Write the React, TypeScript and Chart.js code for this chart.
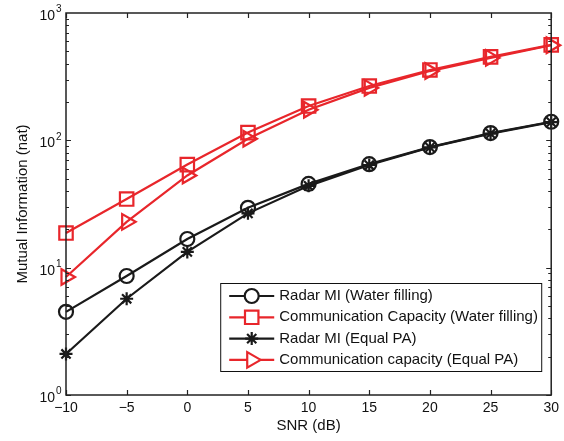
import React, { useEffect, useRef } from "react";
import { Chart, registerables } from "chart.js";
import { drawPoint } from "chart.js/helpers";

Chart.register(...registerables);

const snr = [-10, -5, 0, 5, 10, 15, 20, 25, 30];
const radarWF = [4.5, 8.6, 16.8, 29.5, 45.5, 65, 88.5, 114, 140];
const commWF = [18.7, 34.6, 64.5, 115, 186, 267, 357, 452, 562];
const radarEPA = [2.1, 5.7, 13.3, 26.7, 43.9, 64, 88, 113, 139];
const commEPA = [8.45, 22.9, 53, 103, 174, 258, 350, 444, 558];

const seriesNames = [
  "Radar MI (Water filling)",
  "Communication Capacity (Water filling)",
  "Radar MI (Equal PA)",
  "Communication capacity (Equal PA)",
];

const xTickValues = [-10, -5, 0, 5, 10, 15, 20, 25, 30];
const xTickLabels = ["\u221210", "\u22125", "0", "5", "10", "15", "20", "25", "30"];
const yTickValues = [1, 10, 100, 1000];
const yTickBase = "10";
const yTickExponents = ["0", "1", "2", "3"];

const RED = "#e8262b";
const BLACK = "#1a1a1a";
const FONT = "'Liberation Sans', Arial, Helvetica, sans-serif";

const framePlugin = {
  id: "matlabFrame",
  afterDatasetsDraw(chart: any) {
    const { ctx, chartArea } = chart;
    const { left, right, top, bottom } = chartArea;
    const xs = chart.scales.x;
    const ys = chart.scales.y;
    ctx.save();
    ctx.strokeStyle = "#222";
    ctx.lineWidth = 1.2;
    ctx.beginPath();
    xTickValues.forEach((v) => {
      const px = Math.round(xs.getPixelForValue(v)) + 0.5;
      ctx.moveTo(px, bottom);
      ctx.lineTo(px, bottom - 5);
      ctx.moveTo(px, top);
      ctx.lineTo(px, top + 5);
    });
    for (let d = 0; d < 3; d++) {
      const base = yTickValues[d];
      for (let m = 1; m <= 9; m++) {
        const v = base * m;
        const py = Math.round(ys.getPixelForValue(v)) + 0.5;
        const len = m === 1 ? 5 : 3;
        ctx.moveTo(left, py);
        ctx.lineTo(left + len, py);
        ctx.moveTo(right, py);
        ctx.lineTo(right - len, py);
      }
    }
    ctx.stroke();
    ctx.lineWidth = 1.5;
    ctx.strokeRect(left, top, right - left, bottom - top);

    // y tick labels with superscript exponents
    ctx.fillStyle = "#111";
    ctx.textBaseline = "middle";
    yTickValues.forEach((v, i) => {
      const py = ys.getPixelForValue(v);
      ctx.font = `14px ${FONT}`;
      ctx.textAlign = "right";
      ctx.fillText(yTickBase, left - 11, py + 3);
      ctx.font = `10px ${FONT}`;
      ctx.textAlign = "left";
      ctx.fillText(yTickExponents[i], left - 10, py - 3.5);
    });
    ctx.restore();
  },
  afterDraw(chart: any) {
    const { ctx, chartArea } = chart;
    const boxW = 321;
    const boxH = 88;
    const bx = chartArea.right - 10 - boxW;
    const by = chartArea.bottom - 24 - boxH;
    ctx.save();
    ctx.fillStyle = "#fff";
    ctx.fillRect(bx, by, boxW, boxH);
    ctx.strokeStyle = "#111";
    ctx.lineWidth = 1;
    ctx.strokeRect(bx + 0.5, by + 0.5, boxW, boxH);
    ctx.font = `15px ${FONT}`;
    ctx.textBaseline = "middle";
    ctx.textAlign = "left";
    chart.data.datasets.forEach((ds: any, i: number) => {
      const cy = by + 13 + i * 21.3;
      const x0 = bx + 9;
      const x1 = bx + 54;
      ctx.strokeStyle = ds.borderColor;
      ctx.lineWidth = ds.borderWidth;
      ctx.beginPath();
      ctx.moveTo(x0, cy);
      ctx.lineTo(x1, cy);
      ctx.stroke();
      ctx.fillStyle = "#fff";
      ctx.strokeStyle = ds.pointBorderColor;
      ctx.lineWidth = ds.pointBorderWidth;
      drawPoint(
        ctx,
        { pointStyle: ds.pointStyle, rotation: ds.pointRotation || 0, radius: ds.pointRadius, borderWidth: ds.pointBorderWidth },
        (x0 + x1) / 2,
        cy
      );
      ctx.fillStyle = "#111";
      ctx.fillText(ds.label, bx + 59, cy);
    });
    ctx.restore();
  },
};

export default function App() {
  const canvasRef = useRef<HTMLCanvasElement | null>(null);

  useEffect(() => {
    if (!canvasRef.current) return;
    const mk = (label: string, data: number[], color: string, style: string, radius: number, rot = 0) => ({
      label,
      data: snr.map((x, i) => ({ x, y: data[i] })),
      borderColor: color,
      backgroundColor: "rgba(0,0,0,0)",
      borderWidth: 2.2,
      pointStyle: style,
      pointRadius: radius,
      pointRotation: rot,
      pointBorderColor: color,
      pointBackgroundColor: "rgba(0,0,0,0)",
      pointBorderWidth: 2.2,
      clip: false as any,
      tension: 0,
    });
    const chart = new Chart(canvasRef.current, {
      type: "line",
      data: {
        datasets: [
          mk(seriesNames[0], radarWF, BLACK, "circle", 7),
          mk(seriesNames[1], commWF, RED, "rect", 9.5),
          mk(seriesNames[2], radarEPA, BLACK, "star", 6.5),
          mk(seriesNames[3], commEPA, RED, "triangle", 9, 90),
        ],
      },
      options: {
        responsive: false,
        animation: false,
        layout: { padding: { left: 0, right: 12, top: 13, bottom: 0 } },
        plugins: { legend: { display: false }, tooltip: { enabled: false } },
        scales: {
          x: {
            type: "linear",
            min: -10,
            max: 30,
            grid: { display: false, drawTicks: false },
            border: { display: false },
            afterBuildTicks: (s: any) => {
              s.ticks = xTickValues.map((v) => ({ value: v }));
            },
            afterFit: (s: any) => {
              s.height = 46;
            },
            ticks: {
              padding: 5,
              color: "#111",
              font: { family: FONT, size: 14 },
              callback: (v: any) => xTickLabels[xTickValues.indexOf(Number(v))] ?? "",
            },
            title: {
              display: true,
              text: "SNR (dB)",
              color: "#111",
              font: { family: FONT, size: 15 },
              padding: { top: 0, bottom: 6 },
            },
          },
          y: {
            type: "logarithmic",
            min: 1,
            max: 1000,
            grid: { display: false, drawTicks: false },
            border: { display: false },
            afterBuildTicks: (s: any) => {
              s.ticks = yTickValues.map((v) => ({ value: v, major: true }));
            },
            afterFit: (s: any) => {
              s.width = 66;
            },
            ticks: { display: false },
            title: {
              display: true,
              text: "Mutual Information (nat)",
              color: "#111",
              font: { family: FONT, size: 15 },
              padding: { top: 14, bottom: 0 },
            },
          },
        },
      },
      plugins: [framePlugin],
    } as any);
    return () => chart.destroy();
  }, []);

  return (
    <div style={{ position: "absolute", left: 0, top: 0, width: 564, height: 441, background: "#fff" }}>
      <canvas ref={canvasRef} width={564} height={441} />
    </div>
  );
}
